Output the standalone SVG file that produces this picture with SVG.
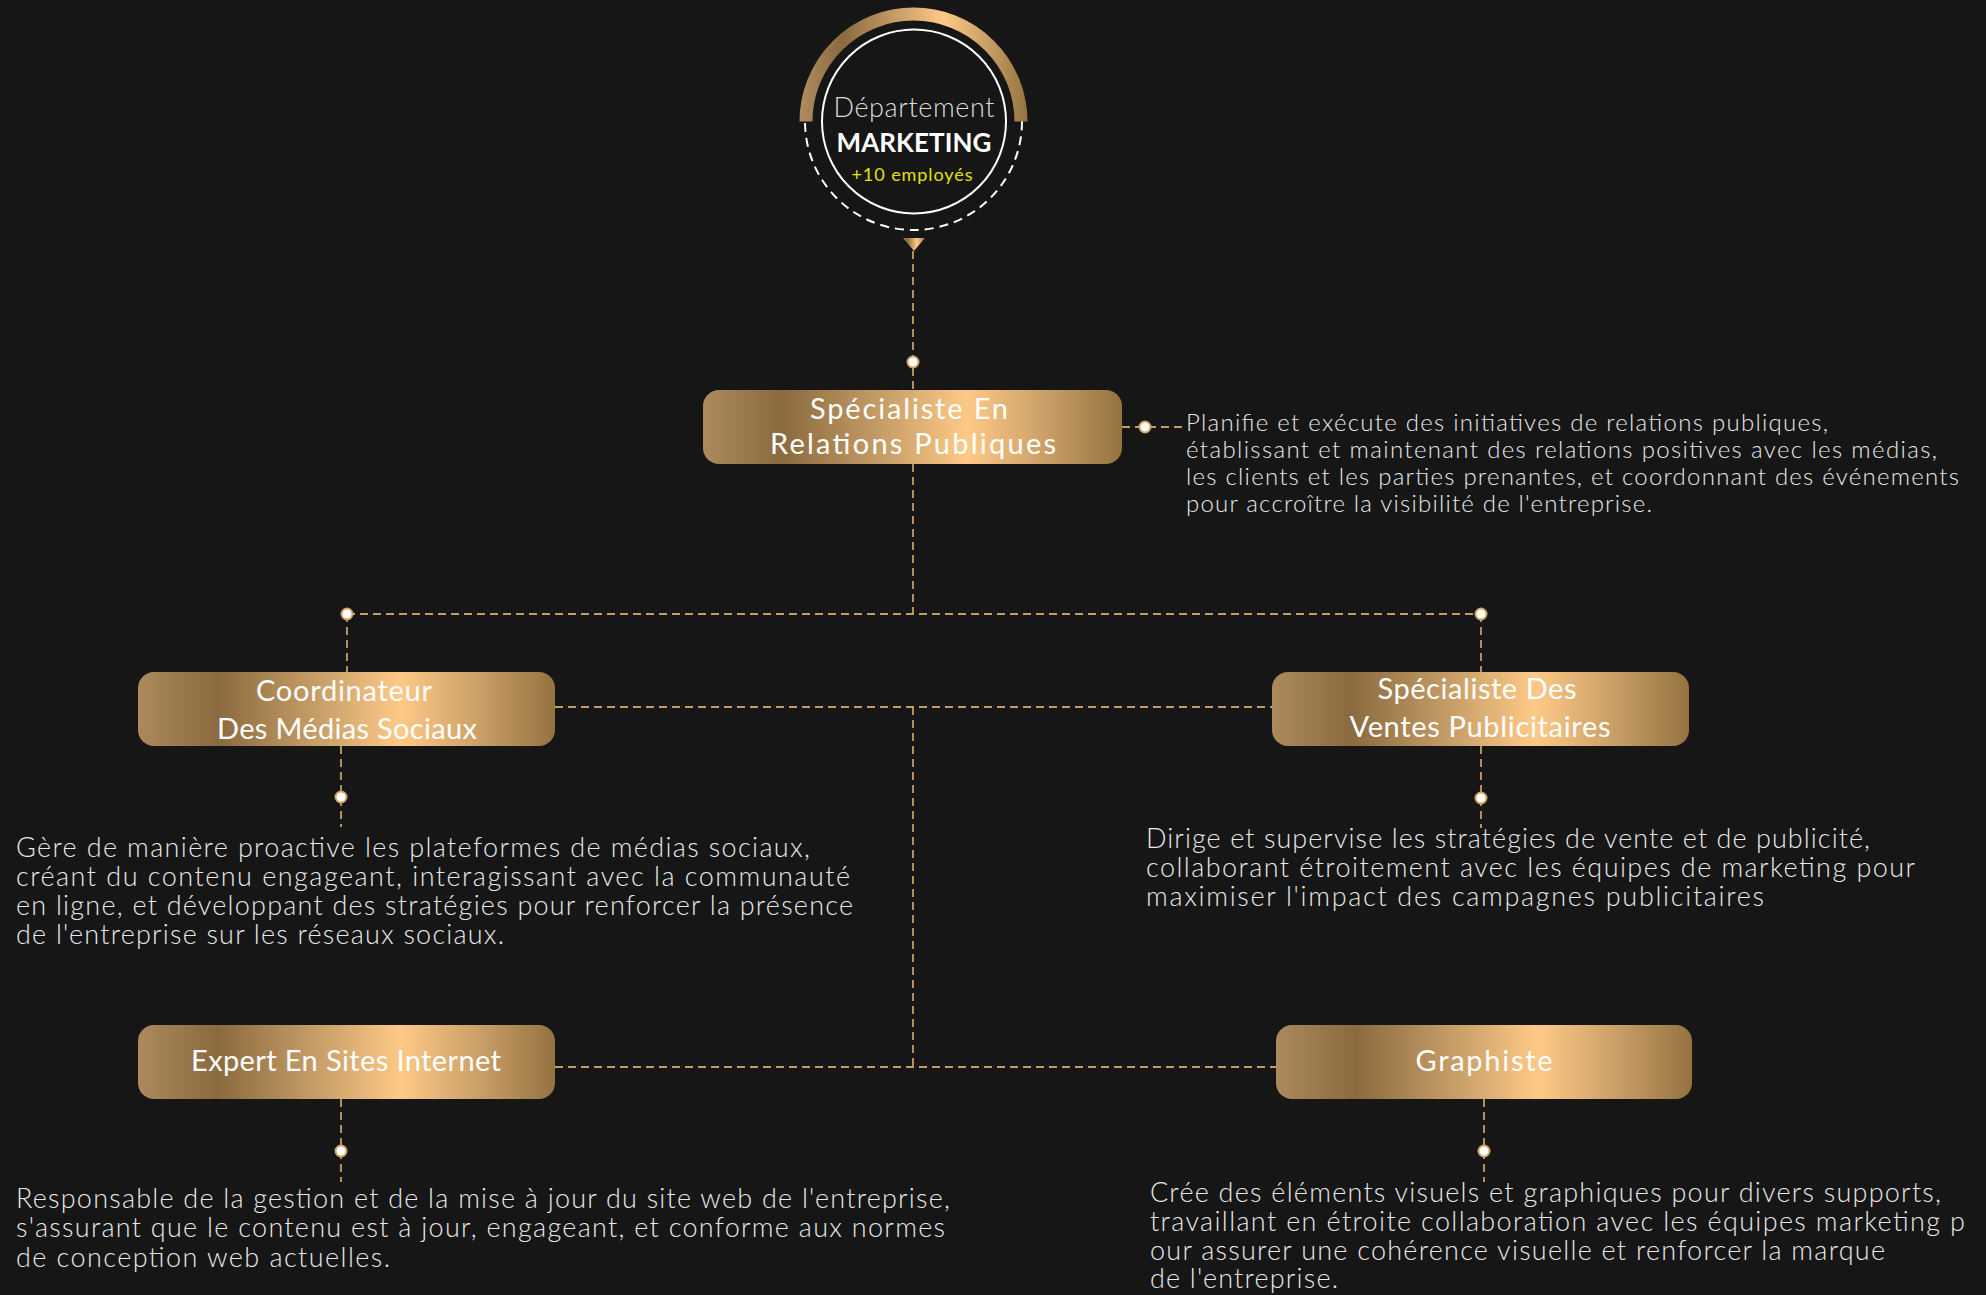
<svg xmlns="http://www.w3.org/2000/svg" width="1986" height="1295" viewBox="0 0 1986 1295">
  <defs>
    <linearGradient id="gold" x1="0" y1="0" x2="1" y2="0">
      <stop offset="0" stop-color="#ac8a5e"/>
      <stop offset="0.19" stop-color="#8b6a3f"/>
      <stop offset="0.42" stop-color="#c49c66"/>
      <stop offset="0.63" stop-color="#fec986"/>
      <stop offset="0.82" stop-color="#c99f67"/>
      <stop offset="1" stop-color="#94723f"/>
    </linearGradient>
    <linearGradient id="arcGold" gradientUnits="userSpaceOnUse" x1="799" y1="0" x2="1028" y2="0">
      <stop offset="0" stop-color="#b18d5f"/>
      <stop offset="0.19" stop-color="#8b6a3f"/>
      <stop offset="0.42" stop-color="#c49c66"/>
      <stop offset="0.63" stop-color="#fec986"/>
      <stop offset="0.82" stop-color="#c99f67"/>
      <stop offset="1" stop-color="#94723f"/>
    </linearGradient>
    <style>
      .bg { fill: #161616; }
      .box { fill: url(#gold); }
      .title { font-family: Lato, "Liberation Sans", sans-serif; font-size: 29px; fill: #ffffff; text-anchor: middle; }
      .desc { font-family: Lato, "Liberation Sans", sans-serif; font-weight: 300; font-size: 27px; fill: #e8e8e8; }
      .desc-s { font-size: 24px; }
      .conn { fill: none; stroke: #c59c62; stroke-width: 1.8; stroke-dasharray: 8 5; }
      .dot { fill: #ffffff; stroke: #d0a565; stroke-width: 2; }
    </style>
  </defs>

  <rect class="bg" x="0" y="0" width="1986" height="1295"/>

  <g id="connectors">
    <line class="conn" x1="913" y1="251" x2="913" y2="390"/>
    <line class="conn" x1="913" y1="464" x2="913" y2="614"/>
    <line class="conn" x1="347" y1="614" x2="1481" y2="614"/>
    <line class="conn" x1="347" y1="614" x2="347" y2="672"/>
    <line class="conn" x1="1481" y1="614" x2="1481" y2="672"/>
    <line class="conn" x1="555" y1="707" x2="1272" y2="707"/>
    <line class="conn" x1="913" y1="707" x2="913" y2="1067"/>
    <line class="conn" x1="555" y1="1067" x2="1276" y2="1067"/>
    <line class="conn" x1="1122" y1="427" x2="1183" y2="427"/>
    <line class="conn" x1="341" y1="746" x2="341" y2="827"/>
    <line class="conn" x1="1481" y1="746" x2="1481" y2="828"/>
    <line class="conn" x1="341" y1="1099" x2="341" y2="1182"/>
    <line class="conn" x1="1484" y1="1099" x2="1484" y2="1182"/>
    <circle class="dot" cx="913" cy="362" r="5.5"/>
    <circle class="dot" cx="1145" cy="427" r="5.5"/>
    <circle class="dot" cx="347" cy="614" r="5.5"/>
    <circle class="dot" cx="1481" cy="614" r="5.5"/>
    <circle class="dot" cx="341" cy="797" r="5.5"/>
    <circle class="dot" cx="1481" cy="798" r="5.5"/>
    <circle class="dot" cx="341" cy="1151" r="5.5"/>
    <circle class="dot" cx="1484" cy="1151" r="5.5"/>
  </g>

  <g id="department">
    <circle cx="913.5" cy="121.5" r="108.5" fill="none" stroke="#ffffff" stroke-width="2" stroke-dasharray="9 6"/>
    <path d="M 806 121.5 A 107.5 107.5 0 0 1 1021 121.5" fill="none" stroke="url(#arcGold)" stroke-width="13"/>
    <circle cx="914" cy="121.5" r="92" fill="none" stroke="#ffffff" stroke-width="2"/>
    <polygon points="903,238 925,238 914,251" fill="url(#gold)"/>
    <text x="914" y="117" font-family="Lato, 'Liberation Sans', sans-serif" font-weight="300" font-size="27" fill="#dcdcdc" text-anchor="middle" textLength="161">Département</text>
    <text x="914" y="152" font-family="Lato, 'Liberation Sans', sans-serif" font-weight="700" font-size="26" fill="#ffffff" text-anchor="middle" textLength="155">MARKETING</text>
    <text x="912" y="181" font-family="Lato, 'Liberation Sans', sans-serif" font-size="18" fill="#e6e000" text-anchor="middle" textLength="121">+10 employés</text>
  </g>

  <g id="node-relations">
    <rect class="box" x="703" y="390" width="419" height="74" rx="16"/>
    <text class="title" x="909" y="419" textLength="198">Spécialiste En</text>
    <text class="title" x="913" y="454" textLength="286">Relations Publiques</text>
  </g>
  <g id="desc-relations">
    <text class="desc desc-s" x="1186" y="431" textLength="642">Planifie et exécute des initiatives de relations publiques,</text>
    <text class="desc desc-s" x="1186" y="458" textLength="751">établissant et maintenant des relations positives avec les médias,</text>
    <text class="desc desc-s" x="1186" y="485" textLength="773">les clients et les parties prenantes, et coordonnant des événements</text>
    <text class="desc desc-s" x="1186" y="512" textLength="466">pour accroître la visibilité de l'entreprise.</text>
  </g>

  <g id="node-coordinateur">
    <rect class="box" x="138" y="672" width="417" height="74" rx="16"/>
    <text class="title" x="344" y="701" textLength="176">Coordinateur</text>
    <text class="title" x="347" y="739" textLength="260">Des Médias Sociaux</text>
  </g>
  <g id="desc-coordinateur">
    <text class="desc" x="16" y="857" textLength="794">Gère de manière proactive les plateformes de médias sociaux,</text>
    <text class="desc" x="16" y="886" textLength="834">créant du contenu engageant, interagissant avec la communauté</text>
    <text class="desc" x="16" y="915" textLength="837">en ligne, et développant des stratégies pour renforcer la présence</text>
    <text class="desc" x="16" y="944" textLength="488">de l'entreprise sur les réseaux sociaux.</text>
  </g>

  <g id="node-ventes">
    <rect class="box" x="1272" y="672" width="417" height="74" rx="16"/>
    <text class="title" x="1477" y="699" textLength="199">Spécialiste Des</text>
    <text class="title" x="1480" y="737" textLength="261">Ventes Publicitaires</text>
  </g>
  <g id="desc-ventes">
    <text class="desc" x="1146" y="848" textLength="724">Dirige et supervise les stratégies de vente et de publicité,</text>
    <text class="desc" x="1146" y="877" textLength="769">collaborant étroitement avec les équipes de marketing pour</text>
    <text class="desc" x="1146" y="906" textLength="618">maximiser l'impact des campagnes publicitaires</text>
  </g>

  <g id="node-expert">
    <rect class="box" x="138" y="1025" width="417" height="74" rx="16"/>
    <text class="title" x="346" y="1071" textLength="310">Expert En Sites Internet</text>
  </g>
  <g id="desc-expert">
    <text class="desc" x="16" y="1208" textLength="934">Responsable de la gestion et de la mise à jour du site web de l'entreprise,</text>
    <text class="desc" x="16" y="1237" textLength="929">s'assurant que le contenu est à jour, engageant, et conforme aux normes</text>
    <text class="desc" x="16" y="1267" textLength="374">de conception web actuelles.</text>
  </g>

  <g id="node-graphiste">
    <rect class="box" x="1276" y="1025" width="416" height="74" rx="16"/>
    <text class="title" x="1484" y="1071" textLength="137">Graphiste</text>
  </g>
  <g id="desc-graphiste">
    <text class="desc" x="1150" y="1202" textLength="791">Crée des éléments visuels et graphiques pour divers supports,</text>
    <text class="desc" x="1150" y="1231" textLength="815">travaillant en étroite collaboration avec les équipes marketing p</text>
    <text class="desc" x="1150" y="1260" textLength="735">our assurer une cohérence visuelle et renforcer la marque</text>
    <text class="desc" x="1150" y="1288" textLength="188">de l'entreprise.</text>
  </g>
</svg>
